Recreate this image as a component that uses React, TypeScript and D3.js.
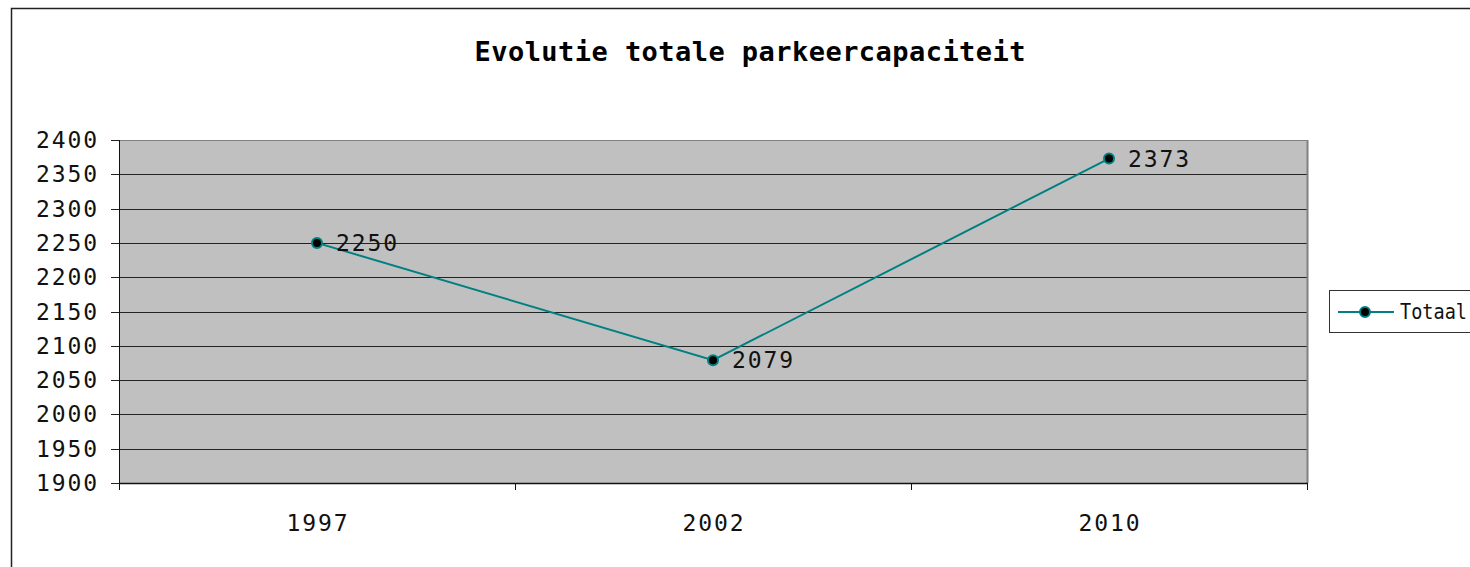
import React from "react";
import * as d3 from "d3";

// data
const years = ["1997", "2002", "2010"];
const totaal = [2250, 2079, 2373];
const yTicks = [1900, 1950, 2000, 2050, 2100, 2150, 2200, 2250, 2300, 2350, 2400];

const FONT = "'DejaVu Sans Mono', 'Liberation Mono', monospace";

export default function App() {
  const width = 1470;
  const height = 567;
  const plot = { left: 119, right: 1307, top: 140, bottom: 483 };

  const x = d3.scaleBand<string>().domain(years).range([plot.left, plot.right]).padding(0);
  const y = d3.scaleLinear().domain([1900, 2400]).range([plot.bottom, plot.top]);

  const line = d3
    .line<number>()
    .x((_, i) => x(years[i])! + x.bandwidth() / 2)
    .y((d) => y(d));

  const boundaries = [...years.map((c) => x(c)!), plot.right];

  return (
    <div style={{ position: "absolute", left: 0, top: 0, width, height, background: "#fff" }}>
      <svg width={width} height={height} style={{ display: "block" }}>
        {/* chart frame */}
        <rect x={11.5} y={8.5} width={width + 20} height={height + 20} fill="#fff" stroke="#222" strokeWidth={1.5} />

        <text
          x={750}
          y={61}
          textAnchor="middle"
          fontFamily={FONT}
          fontSize={27}
          fontWeight="bold"
          textLength={551}
          lengthAdjust="spacing"
          fill="#000"
        >
          Evolutie totale parkeercapaciteit
        </text>

        {/* plot area */}
        <rect x={plot.left} y={plot.top} width={plot.right - plot.left} height={plot.bottom - plot.top} fill="#c0c0c0" />
        {yTicks.map((t) => (
          <g key={t}>
            <line x1={plot.left - 8} x2={plot.right} y1={Math.round(y(t)) + 0.5} y2={Math.round(y(t)) + 0.5} stroke="#222" strokeWidth={1} />
            <text
              x={97}
              y={Math.round(y(t))}
              dy="0.35em"
              textAnchor="end"
              fontFamily={FONT}
              fontSize={23}
              textLength={61}
              lengthAdjust="spacing"
              fill="#111"
            >
              {t}
            </text>
          </g>
        ))}
        <line x1={plot.right + 0.5} x2={plot.right + 0.5} y1={plot.top} y2={plot.bottom} stroke="#808080" strokeWidth={2} />
        <line x1={plot.left} x2={plot.right} y1={plot.top + 0.5} y2={plot.top + 0.5} stroke="#808080" strokeWidth={1} />
        {/* axes */}
        <line x1={plot.left + 0.5} x2={plot.left + 0.5} y1={plot.top} y2={plot.bottom + 6} stroke="#111" strokeWidth={1} />
        <line x1={plot.left} x2={plot.right + 1} y1={plot.bottom + 0.5} y2={plot.bottom + 0.5} stroke="#111" strokeWidth={1.5} />
        {boundaries.map((b, i) => (
          <line key={i} x1={b + 0.5} x2={b + 0.5} y1={plot.bottom} y2={plot.bottom + 7} stroke="#111" strokeWidth={1} />
        ))}
        {years.map((c) => (
          <text
            key={c}
            x={x(c)! + x.bandwidth() / 2}
            y={531}
            textAnchor="middle"
            fontFamily={FONT}
            fontSize={23}
            textLength={61}
            lengthAdjust="spacing"
            fill="#111"
          >
            {c}
          </text>
        ))}

        {/* series */}
        <path d={line(totaal) || ""} fill="none" stroke="#008080" strokeWidth={2} />
        {totaal.map((v, i) => {
          const cx = x(years[i])! + x.bandwidth() / 2;
          return (
            <g key={i}>
              <circle cx={cx} cy={y(v)} r={5} fill="#000" stroke="#008080" strokeWidth={2} />
              <text
                x={cx + 19}
                y={y(v)}
                dy="0.35em"
                fontFamily={FONT}
                fontSize={23}
                textLength={61}
                lengthAdjust="spacing"
                fill="#111"
              >
                {v}
              </text>
            </g>
          );
        })}

        {/* legend */}
        <rect x={1329.5} y={290.5} width={160} height={42} fill="#fff" stroke="#333" strokeWidth={1} />
        <line x1={1338} x2={1394} y1={312} y2={312} stroke="#008080" strokeWidth={2} />
        <circle cx={1365} cy={312} r={5} fill="#000" stroke="#008080" strokeWidth={2} />
        <text
          x={1400}
          y={312}
          dy="0.35em"
          fontFamily={FONT}
          fontSize={21}
          textLength={67}
          lengthAdjust="spacingAndGlyphs"
          fill="#111"
        >
          Totaal
        </text>
      </svg>
    </div>
  );
}
